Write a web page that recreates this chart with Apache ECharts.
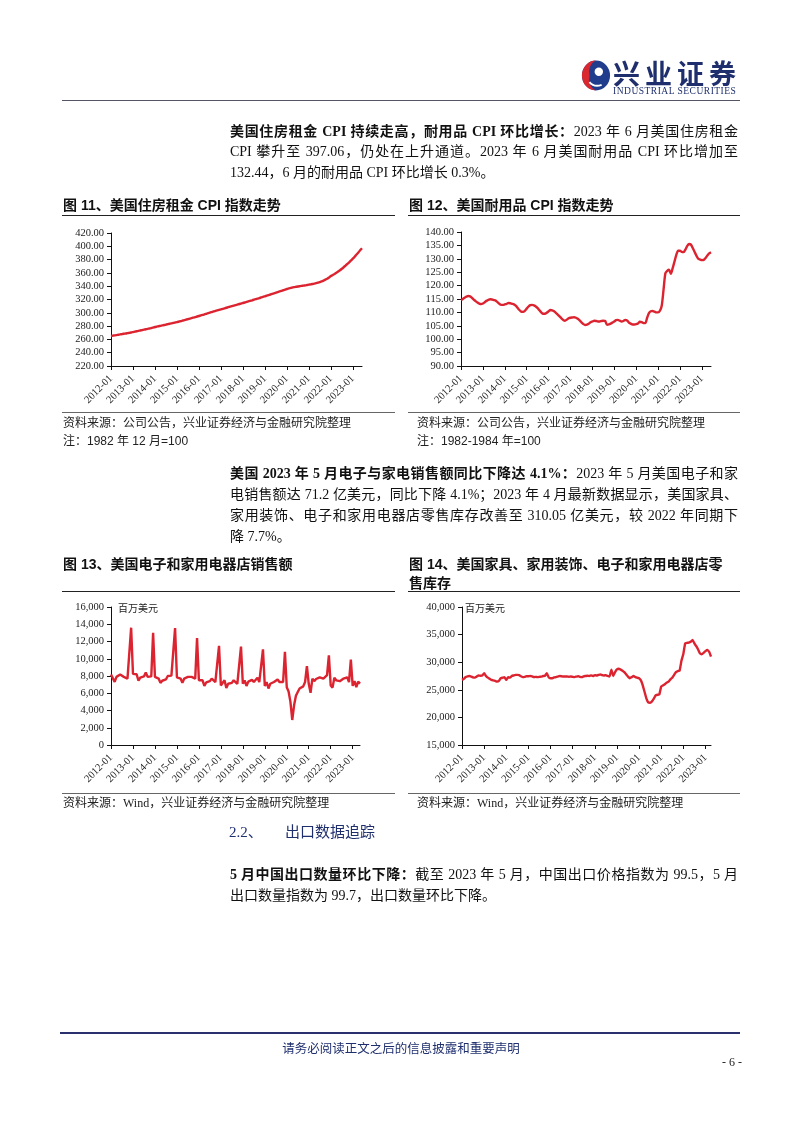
<!DOCTYPE html>
<html><head><meta charset="utf-8">
<script src="https://cdn.jsdelivr.net/npm/echarts@6/dist/echarts.min.js"></script>
<style>
html,body{margin:0;padding:0;background:#fff;}
#page{position:relative;width:802px;height:1133px;overflow:hidden;background:#fff;}
#chart{position:absolute;left:0;top:0;width:802px;height:1133px;z-index:0;}
.t{position:absolute;white-space:nowrap;z-index:1;}
.body{font-family:"Liberation Serif","Noto Sans CJK SC",serif;font-size:14px;color:#111;line-height:20px;height:20px;}
.jl{text-align:justify;text-align-last:justify;white-space:normal;width:508px;}
.ttl{font-family:"Liberation Sans","Noto Sans CJK SC",sans-serif;font-weight:bold;font-size:14px;color:#111;line-height:18px;}
.src{font-family:"Liberation Serif","Noto Sans CJK SC",serif;font-size:12px;color:#222;line-height:14px;}
.note{font-family:"Liberation Sans","Noto Sans CJK SC",sans-serif;font-size:12px;color:#222;line-height:14px;}
.rule{position:absolute;height:0;border-top:1px solid #222;z-index:1;}
b{font-weight:bold;}
</style></head>
<body><div id="page">
<div id="chart"></div>

<!-- header -->
<svg class="t" style="left:581px;top:59px" width="30" height="33" viewBox="0 0 32 34">
  <ellipse cx="16" cy="17" rx="15" ry="16" fill="#1f3d8c"/>
  <path d="M16 1 A15 16 0 0 0 16 33 A11 13 0 0 1 9 17 A11 13 0 0 1 16 1 Z" fill="#d9262f"/>
  <circle cx="19" cy="13" r="4.5" fill="#fff"/>
  <path d="M9 24 Q14 30 22 27" stroke="#fff" stroke-width="2" fill="none"/>
</svg>
<div class="t" style="left:613px;top:58px;font-family:'Noto Sans CJK SC';font-weight:bold;font-size:27px;line-height:30px;color:#1f2f6e;letter-spacing:5px;">兴业证券</div>
<div class="t" style="left:613px;top:86px;font-family:'Liberation Serif';font-size:9.5px;line-height:10px;color:#1f2f6e;letter-spacing:0.5px;">INDUSTRIAL SECURITIES</div>
<div class="rule" style="left:62px;width:678px;top:100px;border-top:1px solid #556;"></div>

<!-- paragraph 1 -->
<div class="t body jl" style="left:230px;top:122px;"><b>美国住房租金 CPI 持续走高，耐用品 CPI 环比增长：</b>2023 年 6 月美国住房租金</div>
<div class="t body jl" style="left:230px;top:142px;">CPI 攀升至 397.06，仍处在上升通道。2023 年 6 月美国耐用品 CPI 环比增加至</div>
<div class="t body" style="left:230px;top:163px;">132.44，6 月的耐用品 CPI 环比增长 0.3%。</div>

<!-- figure 11/12 titles -->
<div class="t ttl" style="left:63px;top:196px;">图 11、美国住房租金 CPI 指数走势</div>
<div class="rule" style="left:62px;width:333px;top:215px;"></div>
<div class="t ttl" style="left:409px;top:196px;">图 12、美国耐用品 CPI 指数走势</div>
<div class="rule" style="left:408px;width:332px;top:215px;"></div>

<div class="rule" style="left:62px;width:333px;top:412px;border-top-color:#666;"></div>
<div class="rule" style="left:408px;width:332px;top:412px;border-top-color:#666;"></div>
<div class="t src" style="left:63px;top:416px;">资料来源：公司公告，兴业证券经济与金融研究院整理</div>
<div class="t note" style="left:63px;top:434px;">注：1982 年 12 月=100</div>
<div class="t src" style="left:417px;top:416px;">资料来源：公司公告，兴业证券经济与金融研究院整理</div>
<div class="t note" style="left:417px;top:434px;">注：1982-1984 年=100</div>

<!-- paragraph 2 -->
<div class="t body jl" style="left:230px;top:464px;"><b>美国 2023 年 5 月电子与家电销售额同比下降达 4.1%：</b>2023 年 5 月美国电子和家</div>
<div class="t body jl" style="left:230px;top:485px;">电销售额达 71.2 亿美元，同比下降 4.1%；2023 年 4 月最新数据显示，美国家具、</div>
<div class="t body jl" style="left:230px;top:506px;">家用装饰、电子和家用电器店零售库存改善至 310.05 亿美元，较 2022 年同期下</div>
<div class="t body" style="left:230px;top:527px;">降 7.7%。</div>

<!-- figure 13/14 titles -->
<div class="t ttl" style="left:63px;top:555px;">图 13、美国电子和家用电器店销售额</div>
<div class="t ttl" style="left:409px;top:555px;">图 14、美国家具、家用装饰、电子和家用电器店零</div>
<div class="t ttl" style="left:409px;top:574px;">售库存</div>
<div class="rule" style="left:62px;width:333px;top:591px;"></div>
<div class="rule" style="left:408px;width:332px;top:591px;"></div>

<div class="rule" style="left:62px;width:333px;top:793px;border-top-color:#666;"></div>
<div class="rule" style="left:408px;width:332px;top:793px;border-top-color:#666;"></div>
<div class="t src" style="left:63px;top:796px;">资料来源：Wind，兴业证券经济与金融研究院整理</div>
<div class="t src" style="left:417px;top:796px;">资料来源：Wind，兴业证券经济与金融研究院整理</div>

<!-- section 2.2 -->
<div class="t" style="left:229px;top:822px;font-family:'Liberation Serif','Noto Sans CJK SC',serif;font-size:15px;line-height:20px;color:#1f2f6e;">2.2、</div>
<div class="t" style="left:285px;top:822px;font-family:'Liberation Serif','Noto Sans CJK SC',serif;font-size:15px;line-height:20px;color:#1f2f6e;">出口数据追踪</div>

<div class="t body jl" style="left:230px;top:865px;"><b>5 月中国出口数量环比下降：</b>截至 2023 年 5 月，中国出口价格指数为 99.5，5 月</div>
<div class="t body" style="left:230px;top:886px;">出口数量指数为 99.7，出口数量环比下降。</div>

<!-- footer -->
<div class="rule" style="left:60px;width:680px;top:1032px;border-top:2px solid #2a2f6e;"></div>
<div class="t" style="left:0;width:802px;text-align:center;top:1040px;font-family:'Noto Sans CJK SC';font-size:12.5px;line-height:16px;color:#1f2f6e;">请务必阅读正文之后的信息披露和重要声明</div>
<div class="t" style="left:722px;top:1055px;font-family:'Liberation Serif';font-size:12px;line-height:14px;color:#222;">- 6 -</div>
</div>

<script>
// ---- data ----
const startYear = 2012;
const rentCPI = [
 265.1,265.6,266.0,266.5,267.0,267.5,268.0,268.5,268.9,269.4,269.9,270.4,
 271.0,271.6,272.2,272.8,273.4,274.0,274.6,275.2,275.8,276.4,277.0,277.8,
 278.6,279.2,279.8,280.4,281.0,281.6,282.3,282.9,283.5,284.1,284.8,285.4,
 286.0,286.7,287.4,288.2,289.0,289.7,290.5,291.3,292.0,292.8,293.6,294.4,
 295.2,296.0,296.8,297.6,298.5,299.4,300.2,301.1,302.0,302.8,303.6,304.4,
 305.2,306.0,306.8,307.6,308.4,309.2,310.0,310.8,311.6,312.4,313.2,313.9,
 314.7,315.5,316.3,317.2,318.0,318.8,319.7,320.5,321.4,322.2,323.1,323.9,
 324.8,325.7,326.6,327.5,328.4,329.3,330.2,331.2,332.1,333.0,333.9,334.8,
 335.8,336.6,337.4,338.0,338.6,339.1,339.6,340.0,340.4,340.9,341.3,341.8,
 342.3,342.8,343.3,343.9,344.6,345.4,346.3,347.3,348.5,349.8,351.2,353.0,
 355.3,356.8,358.4,360.1,362.0,364.0,366.2,368.5,371.0,373.5,376.0,378.7,
 381.4,384.4,387.6,390.6,394.0,397.06
];
const durablesCPI = [
 114.6,115.0,115.5,115.9,116.1,116.0,115.4,114.8,114.2,113.7,113.3,113.1,
 113.3,113.8,114.3,114.7,114.9,114.8,114.6,114.4,113.8,113.2,112.8,112.8,
 113.0,113.2,113.5,113.4,113.2,113.0,112.5,111.7,110.9,110.3,110.2,110.6,
 111.4,112.2,112.7,112.8,112.6,112.2,111.6,110.8,110.0,109.5,109.5,109.9,
 110.4,110.9,110.8,110.4,109.8,109.2,108.5,107.8,107.2,106.9,107.3,107.8,
 108.0,108.1,108.2,108.0,107.6,107.0,106.3,105.7,105.3,105.4,105.8,106.3,
 106.6,106.9,106.8,106.6,106.6,106.8,106.9,106.8,105.4,105.5,105.8,106.2,
 106.6,107.1,107.2,106.9,106.6,106.8,107.2,107.0,106.2,105.8,105.5,105.5,
 105.6,105.9,106.5,106.4,106.0,106.0,108.0,109.7,110.4,110.5,110.3,110.0,
 110.0,110.6,112.5,118.5,124.6,125.5,125.9,124.4,126.5,129.0,131.5,133.0,
 133.0,132.6,132.5,133.5,134.8,135.5,135.3,134.0,132.6,131.2,130.0,129.7,
 129.5,129.6,130.3,131.2,132.0,132.44
];
const storeSales = [
 8170,8400,7320,7900,8100,8170,8400,7900,7700,7700,7650,13600,
 8250,8250,8200,7450,7800,7900,7950,8400,7900,8000,7950,13000,
 7900,7950,7700,7200,7450,7500,7600,8000,8100,8050,8050,13550,
 7850,7850,7700,7200,7700,7900,7900,7950,7900,7900,7700,12400,
 7500,7550,7500,6850,7250,7300,7400,7700,7500,7300,7100,11500,
 6900,6750,7500,6600,7100,7100,7200,7500,7300,7100,7100,11400,
 7100,7500,6850,7350,7350,7550,7300,7350,7800,7300,7250,11100,
 6850,7300,6550,7100,7100,7300,7350,7600,7300,7250,7300,10800,
 6700,6200,5000,2900,4600,5700,6150,6550,6400,6800,7300,9150,
 7100,6050,7700,7400,7650,7850,7850,7800,7700,7500,8100,10400,
 6900,6650,7800,7500,7450,7400,7600,7700,7500,7850,7300,9900,
 6850,7400,6700,7350,7120
];
const storeInventory = [
 26800,27000,27300,27450,27500,27400,27250,27200,27400,27600,27550,27600,
 28000,27500,27200,27000,26800,26700,26600,26500,26600,27100,27200,27300,
 26800,27300,27200,27500,27600,27700,27700,27650,27450,27300,27350,27450,
 27450,27500,27450,27300,27350,27300,27350,27400,27500,27550,28000,27250,
 27100,27100,27250,27300,27400,27500,27450,27400,27400,27400,27350,27400,
 27350,27300,27400,27450,27350,27300,27450,27500,27550,27500,27600,27500,
 27650,27600,27700,27800,27650,27600,27650,27500,27400,28650,27500,28200,
 28700,28800,28650,28450,28200,27800,27400,27100,27300,27500,27300,27200,
 27100,26700,25800,24600,23400,22700,22650,22900,23400,24000,24100,24150,
 25600,25800,26000,26300,26500,26900,27200,27700,28200,28400,28500,30300,
 31500,33400,33500,33550,33700,34050,33400,32900,32300,31600,31450,31700,
 32000,32200,31900,31005
];
const unitLabel = '百万美元';

function months(n){
  const out=[];
  for(let i=0;i<n;i++){
    const y=startYear+Math.floor(i/12), m=i%12+1;
    out.push(y+'-'+(m<10?'0'+m:m));
  }
  return out;
}
const isJan = (i)=> i%12===0;
const axisCol = '#111';
function xAx(gi, n){
  return {type:'category', gridIndex:gi, data:months(n), boundaryGap:false,
    axisLine:{show:true,lineStyle:{color:axisCol,width:1}},
    axisTick:{show:true,interval:isJan,length:4,lineStyle:{color:axisCol}},
    axisLabel:{interval:isJan,rotate:45,margin:11,fontFamily:'Liberation Serif',fontSize:10.5,color:'#222'},
    splitLine:{show:false}};
}
function yAx(gi,min,max,interval,fmt){
  return {type:'value', gridIndex:gi, min:min, max:max, interval:interval,
    axisLine:{show:true,lineStyle:{color:axisCol,width:1}},
    axisTick:{show:true,length:4,lineStyle:{color:axisCol}},
    axisLabel:{formatter:fmt,margin:7,fontFamily:'Liberation Serif',fontSize:10.5,color:'#222'},
    splitLine:{show:false}};
}
const fix2 = v=>v.toFixed(2);
const comma = v=>v===0?'0':(v>=1000? Math.floor(v/1000)+','+String(v%1000).padStart(3,'0') : String(v));
const lineCol = '#dc2330';
function ser(i,data,smooth){
  return {type:'line', xAxisIndex:i, yAxisIndex:i, data:data, symbol:'none', smooth:smooth,
    lineStyle:{color:lineCol,width:2.4}, itemStyle:{color:lineCol}, animation:false};
}

const chart = echarts.init(document.getElementById('chart'), null, {renderer:'canvas'});
chart.setOption({
  animation:false,
  grid:[
    {left:111,top:233,width:251,height:133,containLabel:false,outerBoundsMode:'none'},
    {left:461,top:232,width:250,height:134,containLabel:false,outerBoundsMode:'none'},
    {left:111,top:607,width:249,height:138,containLabel:false,outerBoundsMode:'none'},
    {left:462,top:607,width:249,height:138,containLabel:false,outerBoundsMode:'none'}
  ],
  xAxis:[xAx(0,rentCPI.length), xAx(1,durablesCPI.length), xAx(2,storeSales.length), xAx(3,storeInventory.length)],
  yAxis:[yAx(0,220,420,20,fix2), yAx(1,90,140,5,fix2), yAx(2,0,16000,2000,comma), yAx(3,15000,40000,5000,comma)],
  series:[ser(0,rentCPI,0.2), ser(1,durablesCPI,0.25), ser(2,storeSales,false), ser(3,storeInventory,0.1)],
  graphic:[
    {type:'text', left:118, top:603, style:{text:unitLabel, fontFamily:'Noto Sans CJK SC', fontSize:10, fill:'#222'}},
    {type:'text', left:465, top:603, style:{text:unitLabel, fontFamily:'Noto Sans CJK SC', fontSize:10, fill:'#222'}}
  ]
});
</script>
</body></html>
